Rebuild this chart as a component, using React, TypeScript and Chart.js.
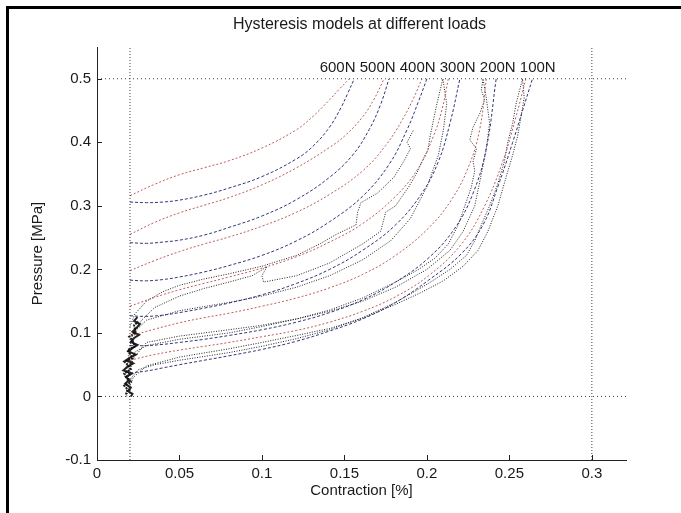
import React, { useEffect, useRef } from "react";
import { Chart, registerables } from "chart.js";

Chart.register(...registerables);

// ---------- text ----------
const titleText = "Hysteresis models at different loads";
const xTitle = "Contraction [%]";
const yTitle = "Pressure [MPa]";
const loadLabelText = "600N 500N 400N 300N 200N 100N";

// ---------- ticks ----------
const xTickValues = [0, 0.05, 0.1, 0.15, 0.2, 0.25, 0.3];
const xTickLabels = ["0", "0.05", "0.1", "0.15", "0.2", "0.25", "0.3"];
const yTickValues = [-0.1, 0, 0.1, 0.2, 0.3, 0.4, 0.5];
const yTickLabels = ["-0.1", "0", "0.1", "0.2", "0.3", "0.4", "0.5"];
const xMin = 0;
const xMax = 0.3207;
const yMin = -0.1;
const yMax = 0.55;

// reference (dotted) lines
const refVertX = [0.02, 0.3];
const refHorizY = [0, 0.5];

// label anchor (data coords)
const labelAnchor = [0.135, 0.517];

// ---------- model curves: red = loading, blue = unloading ----------
const red600 = [[0.02,0.316],[0.035,0.334],[0.05,0.349],[0.065,0.36],[0.08,0.371],[0.1,0.391],[0.121,0.42],[0.131,0.441],[0.141,0.467],[0.147,0.484],[0.153,0.5]];
const blue600 = [[0.02,0.306],[0.03,0.305],[0.04,0.306],[0.05,0.309],[0.065,0.317],[0.08,0.328],[0.1,0.346],[0.121,0.374],[0.131,0.394],[0.141,0.424],[0.148,0.455],[0.152,0.477],[0.156,0.5]];
const red500 = [[0.02,0.255],[0.035,0.274],[0.05,0.289],[0.065,0.301],[0.08,0.313],[0.1,0.333],[0.121,0.36],[0.141,0.392],[0.151,0.412],[0.161,0.44],[0.168,0.468],[0.174,0.5]];
const blue500 = [[0.02,0.242],[0.03,0.241],[0.04,0.243],[0.05,0.246],[0.065,0.254],[0.08,0.266],[0.1,0.284],[0.121,0.31],[0.141,0.345],[0.155,0.38],[0.165,0.42],[0.172,0.46],[0.177,0.5]];
const red400 = [[0.02,0.198],[0.035,0.214],[0.05,0.228],[0.065,0.24],[0.08,0.251],[0.1,0.268],[0.121,0.29],[0.141,0.318],[0.161,0.355],[0.175,0.395],[0.185,0.435],[0.192,0.47],[0.197,0.5]];
const blue400 = [[0.02,0.183],[0.03,0.182],[0.04,0.184],[0.05,0.188],[0.065,0.196],[0.08,0.206],[0.1,0.222],[0.121,0.245],[0.141,0.275],[0.161,0.315],[0.177,0.365],[0.188,0.42],[0.195,0.465],[0.2,0.5]];
const red300 = [[0.02,0.142],[0.035,0.156],[0.05,0.168],[0.065,0.178],[0.08,0.188],[0.1,0.202],[0.121,0.22],[0.141,0.243],[0.161,0.272],[0.181,0.315],[0.195,0.36],[0.204,0.41],[0.209,0.45],[0.213,0.5]];
const blue300 = [[0.02,0.127],[0.03,0.126],[0.04,0.128],[0.05,0.132],[0.065,0.139],[0.08,0.147],[0.1,0.16],[0.121,0.178],[0.141,0.2],[0.161,0.23],[0.181,0.27],[0.197,0.32],[0.207,0.37],[0.214,0.43],[0.22,0.5]];
const red200 = [[0.02,0.095],[0.035,0.106],[0.05,0.116],[0.065,0.124],[0.08,0.131],[0.1,0.142],[0.121,0.155],[0.141,0.171],[0.161,0.192],[0.181,0.222],[0.201,0.265],[0.215,0.31],[0.225,0.36],[0.232,0.42],[0.236,0.5]];
const blue200 = [[0.02,0.08],[0.03,0.08],[0.04,0.082],[0.05,0.085],[0.065,0.09],[0.08,0.096],[0.1,0.105],[0.121,0.117],[0.141,0.132],[0.161,0.152],[0.181,0.18],[0.201,0.218],[0.217,0.265],[0.228,0.32],[0.236,0.39],[0.242,0.5]];
const red100 = [[0.02,0.057],[0.035,0.066],[0.05,0.073],[0.065,0.079],[0.08,0.085],[0.1,0.094],[0.121,0.104],[0.141,0.117],[0.161,0.134],[0.181,0.157],[0.201,0.19],[0.221,0.24],[0.235,0.3],[0.246,0.37],[0.254,0.44],[0.26,0.5]];
const blue100 = [[0.02,0.037],[0.03,0.04],[0.04,0.045],[0.05,0.05],[0.065,0.057],[0.08,0.064],[0.1,0.074],[0.121,0.087],[0.141,0.103],[0.161,0.122],[0.181,0.148],[0.201,0.183],[0.221,0.225],[0.234,0.27],[0.243,0.33],[0.252,0.4],[0.258,0.45],[0.264,0.5]];

// ---------- measured data (black) ----------
const meas100 = [[0.018,0.0],[0.019,0.015],[0.021,0.03],[0.025,0.042],[0.035,0.05],[0.05,0.057],[0.065,0.063],[0.08,0.069],[0.1,0.079],[0.121,0.091],[0.141,0.105],[0.161,0.124],[0.181,0.148],[0.201,0.178],[0.214,0.2],[0.224,0.222],[0.229,0.245],[0.233,0.27],[0.238,0.3],[0.243,0.335],[0.247,0.37],[0.249,0.4],[0.252,0.43],[0.254,0.46],[0.256,0.48],[0.258,0.5],[0.259,0.47],[0.257,0.44],[0.255,0.41],[0.252,0.38],[0.248,0.345],[0.243,0.3],[0.237,0.26],[0.231,0.23],[0.222,0.205],[0.21,0.182],[0.196,0.163],[0.181,0.145],[0.161,0.123],[0.141,0.107],[0.121,0.096],[0.1,0.085],[0.08,0.075],[0.05,0.062],[0.03,0.048],[0.022,0.03],[0.019,0.01]];
const meas200 = [[0.018,0.02],[0.02,0.05],[0.023,0.07],[0.03,0.08],[0.05,0.09],[0.08,0.1],[0.1,0.11],[0.121,0.122],[0.141,0.136],[0.161,0.155],[0.181,0.18],[0.195,0.2],[0.205,0.218],[0.213,0.24],[0.219,0.27],[0.223,0.3],[0.227,0.33],[0.229,0.355],[0.228,0.37],[0.23,0.39],[0.226,0.404],[0.228,0.424],[0.232,0.445],[0.235,0.467],[0.233,0.482],[0.234,0.5],[0.236,0.47],[0.238,0.43],[0.236,0.39],[0.233,0.35],[0.229,0.3],[0.222,0.26],[0.214,0.23],[0.2,0.2],[0.181,0.172],[0.161,0.15],[0.141,0.134],[0.121,0.122],[0.1,0.112],[0.08,0.105],[0.05,0.095],[0.03,0.085],[0.022,0.06],[0.019,0.03]];
const meas300 = [[0.018,0.04],[0.02,0.08],[0.022,0.1],[0.027,0.12],[0.035,0.14],[0.05,0.158],[0.065,0.17],[0.08,0.18],[0.094,0.19],[0.103,0.204],[0.1,0.19],[0.101,0.18],[0.121,0.19],[0.141,0.21],[0.161,0.24],[0.172,0.26],[0.175,0.29],[0.181,0.3],[0.189,0.33],[0.194,0.352],[0.197,0.37],[0.2006,0.388],[0.202,0.41],[0.2036,0.43],[0.206,0.46],[0.2097,0.5],[0.212,0.46],[0.21,0.42],[0.207,0.38],[0.2,0.33],[0.19,0.28],[0.178,0.245],[0.161,0.215],[0.141,0.19],[0.121,0.172],[0.1,0.158],[0.08,0.148],[0.05,0.135],[0.03,0.12],[0.022,0.1]];
const meas400 = [[0.02,0.11],[0.023,0.13],[0.03,0.15],[0.04,0.165],[0.05,0.175],[0.065,0.185],[0.08,0.193],[0.1,0.205],[0.121,0.222],[0.135,0.24],[0.145,0.255],[0.157,0.27],[0.158,0.29],[0.16,0.305],[0.17,0.32],[0.18,0.345],[0.186,0.37],[0.19,0.39],[0.188,0.4],[0.192,0.42]];
const originBundleA = [[0.0205,0.0],[0.0215,0.004],[0.019,0.008],[0.0205,0.014],[0.017,0.02],[0.0195,0.026],[0.0175,0.031],[0.021,0.036],[0.016,0.041],[0.0185,0.047],[0.022,0.052],[0.0175,0.057],[0.0205,0.062],[0.0235,0.066],[0.019,0.071],[0.0215,0.076],[0.0245,0.081],[0.0205,0.086],[0.0225,0.092],[0.0255,0.097],[0.0215,0.102],[0.024,0.108],[0.026,0.114],[0.0225,0.119],[0.0245,0.125]];
const originBundleB = [[0.0175,0.003],[0.0185,0.011],[0.0165,0.017],[0.0205,0.023],[0.018,0.029],[0.0165,0.036],[0.0205,0.043],[0.0185,0.05],[0.0165,0.055],[0.0215,0.06],[0.02,0.067],[0.0185,0.073],[0.023,0.079],[0.0215,0.088],[0.0195,0.094],[0.0235,0.1],[0.0225,0.112],[0.025,0.118]];

const FONT = "'Liberation Sans', Arial, Helvetica, sans-serif";
const TEXT = "#1a1a1a";
const RED = "rgba(180,75,75,0.9)";
const BLUE = "rgba(30,30,110,0.9)";
const BLACK = "rgba(10,10,10,0.9)";

type Pt = number[];

function line(pts: Pt[], color: string, dash: number[], width: number, tension: number) {
  return {
    data: pts.map(([x, y]) => ({ x, y })),
    showLine: true,
    borderColor: color,
    backgroundColor: color,
    borderDash: dash,
    borderWidth: width,
    pointRadius: 0,
    tension,
    fill: false,
  };
}

export default function App() {
  const ref = useRef<HTMLCanvasElement | null>(null);

  useEffect(() => {
    const canvas = ref.current;
    if (!canvas) return;

    const datasets: any[] = [];
    refVertX.forEach((x) => datasets.push(line([[x, yMin], [x, yMax]], "rgba(40,40,40,0.9)", [1, 2], 1, 0)));
    refHorizY.forEach((y) => datasets.push(line([[xMin, y], [xMax, y]], "rgba(40,40,40,0.9)", [1, 3], 1, 0)));

    const models: [Pt[], Pt[]][] = [
      [red600, blue600],
      [red500, blue500],
      [red400, blue400],
      [red300, blue300],
      [red200, blue200],
      [red100, blue100],
    ];
    models.forEach(([r, b]) => {
      datasets.push(line(r, RED, [2, 2], 1, 0.4));
      datasets.push(line(b, BLUE, [3, 2], 1, 0.4));
    });
    [meas100, meas200, meas300, meas400].forEach((m) => datasets.push(line(m, BLACK, [1, 1.5], 1, 0)));
    datasets.push(line(originBundleA, BLACK, [], 2, 0));
    datasets.push(line(originBundleB, BLACK, [2, 1], 2, 0));

    const extras = {
      id: "extras",
      afterDraw(chart: any) {
        const { ctx, chartArea, scales } = chart;
        ctx.save();
        ctx.strokeStyle = "#222";
        ctx.lineWidth = 1;
        ctx.beginPath();
        xTickValues.forEach((v) => {
          const px = Math.round(scales.x.getPixelForValue(v)) + 0.5;
          ctx.moveTo(px, chartArea.bottom);
          ctx.lineTo(px, chartArea.bottom - 5);
        });
        yTickValues.forEach((v) => {
          const py = Math.round(scales.y.getPixelForValue(v)) + 0.5;
          ctx.moveTo(chartArea.left, py);
          ctx.lineTo(chartArea.left + 5, py);
        });
        ctx.stroke();
        ctx.fillStyle = TEXT;
        ctx.textBaseline = "middle";
        ctx.font = `16px ${FONT}`;
        ctx.textAlign = "center";
        ctx.fillText(titleText, (chartArea.left + chartArea.right) / 2 - 2, 25);
        ctx.font = `15px ${FONT}`;
        ctx.textAlign = "left";
        ctx.fillText(
          loadLabelText,
          scales.x.getPixelForValue(labelAnchor[0]),
          scales.y.getPixelForValue(labelAnchor[1])
        );
        ctx.restore();
      },
    };

    const font = { family: FONT, size: 15, weight: "normal" as const };

    const chart = new Chart(canvas, {
      type: "scatter",
      data: { datasets },
      options: {
        responsive: false,
        animation: false,
        devicePixelRatio: 1,
        layout: { padding: { left: 0, right: 55, top: 47, bottom: 0 } },
        plugins: {
          legend: { display: false },
          tooltip: { enabled: false },
          title: { display: false },
        },
        scales: {
          x: {
            type: "linear",
            min: xMin,
            max: xMax,
            afterBuildTicks: (s: any) => {
              s.ticks = xTickValues.map((v) => ({ value: v }));
            },
            afterFit: (s: any) => {
              s.height = 53;
            },
            ticks: {
              callback: (_v: any, i: number) => xTickLabels[i],
              padding: 5,
              color: TEXT,
              font,
              maxRotation: 0,
              autoSkip: false,
            },
            grid: { display: false, drawTicks: false },
            border: { display: true, color: "#222", width: 1 },
            title: { display: true, text: xTitle, color: TEXT, font, padding: { top: 0, bottom: 13 } },
          },
          y: {
            type: "linear",
            min: yMin,
            max: yMax,
            afterBuildTicks: (s: any) => {
              s.ticks = yTickValues.map((v) => ({ value: v }));
            },
            afterFit: (s: any) => {
              s.width = 97;
            },
            ticks: {
              callback: (_v: any, i: number) => yTickLabels[i],
              padding: 6,
              color: TEXT,
              font,
              autoSkip: false,
            },
            grid: { display: false, drawTicks: false },
            border: { display: true, color: "#222", width: 1 },
            title: { display: true, text: yTitle, color: TEXT, font, padding: { top: 29, bottom: 0 } },
          },
        },
      },
      plugins: [extras],
    });

    return () => chart.destroy();
  }, []);

  return (
    <div
      style={{
        position: "fixed",
        left: 0,
        top: 0,
        width: 681,
        height: 513,
        background: "#fff",
        overflow: "hidden",
      }}
    >
      <canvas
        ref={ref}
        width={681}
        height={513}
        style={{ position: "absolute", left: 0, top: 0, width: 681, height: 513 }}
      />
      <div style={{ position: "absolute", left: 6, top: 6, width: 675, height: 3, background: "#000" }} />
      <div style={{ position: "absolute", left: 6, top: 6, width: 3, height: 507, background: "#000" }} />
      <div style={{ position: "absolute", left: 674, top: 10, width: 7, height: 503, background: "#fff" }} />
    </div>
  );
}
